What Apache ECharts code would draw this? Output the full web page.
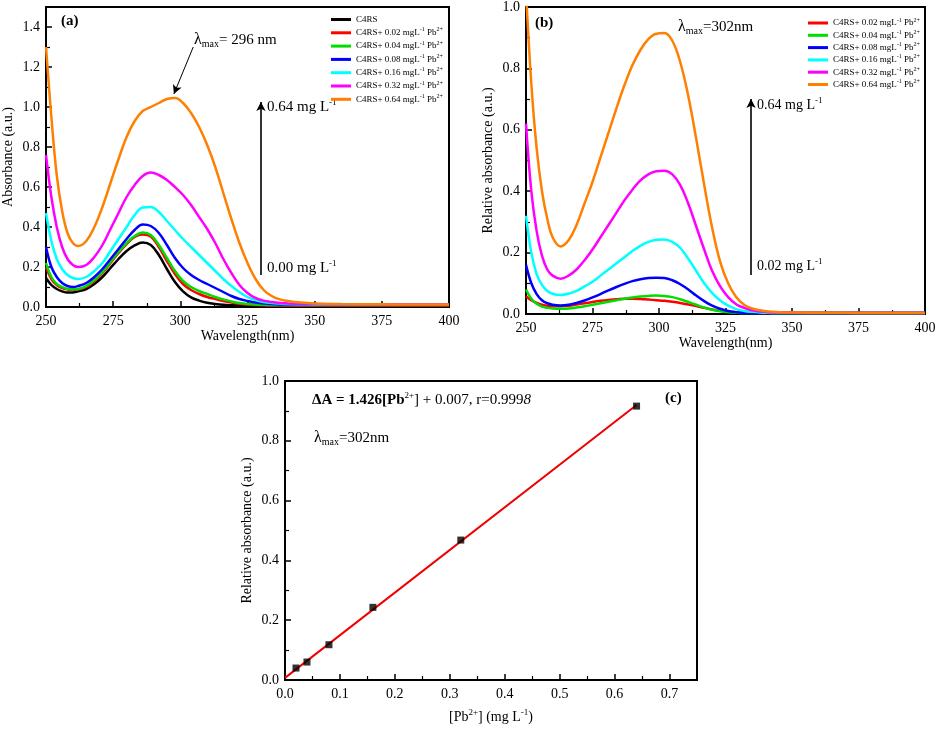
<!DOCTYPE html>
<html><head><meta charset="utf-8">
<script src="https://cdn.jsdelivr.net/npm/echarts@6/dist/echarts.min.js"></script>
<style>html,body{margin:0;padding:0;background:#fff}#c{width:945px;height:739px}</style>
</head><body><div id="c"></div>
<script>
// ---------- data ----------
const wlA = [250,252,254,256,258,260,262,265,268,271,274,277,280,283,286,289,292,295,298,301,304,307,310,313,316,319,322,325,328,331,334,337,340,345,350,360,370,380,390,400];
const aBlank = [0.145,0.11,0.09,0.078,0.072,0.073,0.078,0.09,0.115,0.15,0.195,0.24,0.28,0.308,0.322,0.31,0.26,0.19,0.125,0.078,0.048,0.032,0.021,0.015,0.011,0.009,0.008,0.007,0.007,0.006,0.006,0.006,0.006,0.006,0.006,0.006,0.006,0.006,0.006,0.006];
const a002 = [0.20,0.14,0.11,0.095,0.088,0.085,0.088,0.10,0.13,0.17,0.22,0.27,0.315,0.35,0.362,0.352,0.30,0.23,0.165,0.115,0.085,0.065,0.05,0.04,0.03,0.022,0.016,0.012,0.01,0.009,0.008,0.008,0.008,0.008,0.008,0.008,0.008,0.008,0.008,0.008];
const a004 = [0.22,0.15,0.115,0.10,0.09,0.088,0.09,0.105,0.135,0.175,0.225,0.275,0.32,0.355,0.372,0.36,0.31,0.245,0.18,0.13,0.10,0.08,0.065,0.05,0.038,0.028,0.02,0.015,0.012,0.011,0.01,0.01,0.01,0.01,0.01,0.01,0.01,0.01,0.01,0.01];
const a008 = [0.30,0.20,0.15,0.12,0.105,0.10,0.105,0.12,0.15,0.19,0.24,0.29,0.34,0.385,0.412,0.405,0.37,0.31,0.245,0.195,0.16,0.135,0.115,0.095,0.075,0.055,0.04,0.03,0.022,0.018,0.015,0.013,0.012,0.012,0.012,0.012,0.012,0.012,0.012,0.012];
const a016 = [0.47,0.33,0.24,0.19,0.16,0.145,0.14,0.15,0.18,0.22,0.28,0.34,0.40,0.46,0.498,0.50,0.475,0.43,0.385,0.34,0.30,0.26,0.22,0.18,0.14,0.105,0.075,0.05,0.035,0.025,0.02,0.017,0.015,0.014,0.013,0.013,0.013,0.013,0.013,0.013];
const a032 = [0.76,0.55,0.40,0.30,0.24,0.21,0.20,0.21,0.25,0.31,0.39,0.47,0.55,0.61,0.655,0.672,0.66,0.635,0.60,0.56,0.51,0.45,0.39,0.32,0.24,0.17,0.11,0.07,0.045,0.032,0.025,0.02,0.018,0.016,0.015,0.014,0.014,0.013,0.013,0.013];
const a064 = [1.30,0.95,0.66,0.48,0.37,0.32,0.305,0.33,0.40,0.50,0.62,0.74,0.85,0.93,0.98,1.00,1.02,1.04,1.045,1.02,0.97,0.90,0.81,0.70,0.57,0.44,0.32,0.22,0.14,0.085,0.055,0.038,0.03,0.022,0.018,0.015,0.014,0.013,0.013,0.013];

const wlB = [250,252,254,256,258,260,263,266,269,272,275,278,281,284,287,290,293,296,299,302,305,308,311,314,317,320,323,326,329,332,335,338,341,345,350,360,370,380,390,400];
const b002 = [0.058,0.045,0.036,0.03,0.027,0.025,0.025,0.027,0.031,0.035,0.039,0.043,0.046,0.048,0.05,0.05,0.049,0.047,0.045,0.043,0.04,0.036,0.031,0.026,0.02,0.015,0.011,0.008,0.006,0.005,0.004,0.004,0.004,0.004,0.004,0.004,0.004,0.004,0.004,0.004];
const b004 = [0.08,0.05,0.033,0.024,0.02,0.018,0.017,0.018,0.021,0.025,0.03,0.035,0.04,0.045,0.05,0.054,0.057,0.059,0.06,0.059,0.055,0.048,0.039,0.03,0.021,0.014,0.009,0.006,0.004,0.003,0.003,0.003,0.003,0.003,0.003,0.003,0.003,0.003,0.003,0.003];
const b008 = [0.16,0.10,0.065,0.045,0.035,0.03,0.028,0.03,0.036,0.044,0.054,0.065,0.077,0.088,0.098,0.107,0.113,0.117,0.118,0.117,0.11,0.097,0.08,0.06,0.042,0.027,0.017,0.01,0.006,0.004,0.003,0.003,0.003,0.003,0.003,0.003,0.003,0.003,0.003,0.003];
const b016 = [0.32,0.20,0.13,0.095,0.075,0.066,0.062,0.066,0.075,0.09,0.105,0.125,0.145,0.165,0.185,0.205,0.222,0.235,0.242,0.243,0.235,0.215,0.18,0.14,0.10,0.068,0.044,0.027,0.016,0.01,0.007,0.005,0.004,0.003,0.003,0.003,0.003,0.003,0.003,0.003];
const b032 = [0.62,0.40,0.27,0.19,0.145,0.125,0.115,0.125,0.145,0.175,0.21,0.25,0.29,0.33,0.37,0.405,0.435,0.455,0.465,0.467,0.455,0.42,0.36,0.285,0.21,0.14,0.09,0.055,0.032,0.02,0.012,0.008,0.006,0.005,0.004,0.003,0.003,0.003,0.003,0.003];
const b064 = [1.05,0.75,0.54,0.40,0.31,0.25,0.22,0.24,0.29,0.36,0.43,0.51,0.59,0.67,0.745,0.81,0.86,0.895,0.913,0.915,0.89,0.82,0.71,0.57,0.42,0.28,0.17,0.10,0.055,0.03,0.018,0.012,0.008,0.006,0.005,0.004,0.004,0.003,0.003,0.003];

const calibConc = [0.02,0.04,0.08,0.16,0.32,0.64];
const calibResp = [0.040,0.060,0.118,0.243,0.468,0.916];
const fitX = [0, 0.64];
const fitY = [0.007, 0.920];

const concLabels = ['0.02','0.04','0.08','0.16','0.32','0.64'];
const colors = ['#ff0000','#00dd00','#0000ff','#00ffff','#ff00ff','#ff7f00'];
const xTicksWave = {min:250, max:400, interval:25};

// ---------- chart ----------
const F = '"Liberation Serif", "Times New Roman", serif';
const zip = (xs, ys) => xs.map((x, i) => [x, ys[i]]);
const fmt1 = v => v.toFixed(1);
const sup = {fontFamily:F, fontSize:9, color:'#000', padding:[0,0,9,0]};
const sub = {fontFamily:F, fontSize:10, color:'#000', padding:[8,0,0,0]};

function axis(gi, o) {
  return Object.assign({
    type:'value', gridIndex:gi, nameLocation:'middle',
    nameTextStyle:{fontFamily:F, fontSize:14, color:'#000', rich:{t:{fontFamily:F,fontSize:14,color:'#000'}, s:sup}},
    axisLine:{show:true, onZero:false, lineStyle:{color:'#000', width:2}},
    axisTick:{show:true, inside:true, length:6, lineStyle:{color:'#000', width:1.5}},
    minorTick:{show:true, splitNumber:2, length:4, lineStyle:{color:'#000', width:1.2}},
    splitLine:{show:false}, minorSplitLine:{show:false},
    axisLabel:{fontFamily:F, fontSize:14, color:'#000', margin:7}
  }, o);
}

const series = [];
const aSets = [aBlank, a002, a004, a008, a016, a032, a064];
const aNames = ['C4RS'].concat(concLabels);
const aColors = ['#000000'].concat(colors);
aSets.forEach((d, i) => series.push({
  type:'line', name:aNames[i], xAxisIndex:0, yAxisIndex:0, data:zip(wlA, d),
  smooth:0.4, showSymbol:false, symbol:'none', lineStyle:{width:2.5, color:aColors[i]}, itemStyle:{color:aColors[i]}, z: 2 + i
}));
const bSets = [b002, b004, b008, b016, b032, b064];
bSets.forEach((d, i) => series.push({
  type:'line', name:concLabels[i], xAxisIndex:1, yAxisIndex:1, data:zip(wlB, d),
  smooth:0.4, showSymbol:false, symbol:'none', lineStyle:{width:2.5, color:colors[i]}, itemStyle:{color:colors[i]}, z: 2 + i
}));
// annotation arrows (data coordinates)
series[0].markLine = {silent:true, symbol:['none','arrow'], symbolSize:[7,9], label:{show:false},
  lineStyle:{color:'#000', type:'solid', width:1},
  data:[
    [{coord:[304.8,1.30]},{coord:[297.6,1.065]}],
    [{coord:[330,0.16], lineStyle:{width:1.6}},{coord:[330,1.025]}]
  ]};
series[7].markLine = {silent:true, symbol:['none','arrow'], symbolSize:[7,9], label:{show:false},
  lineStyle:{color:'#000', type:'solid', width:1.6},
  data:[[{coord:[334.6,0.127]},{coord:[334.6,0.70]}]]};
series.push({type:'line', name:'fit', xAxisIndex:2, yAxisIndex:2, data:zip(fitX, fitY), showSymbol:false, symbol:'none', lineStyle:{color:'#ee0000', width:2}, z:3});
series.push({type:'scatter', name:'calib', xAxisIndex:2, yAxisIndex:2, data:zip(calibConc, calibResp), symbol:'rect', symbolSize:7, itemStyle:{color:'#000'}, z:4});

const legendFmt = n => n === 'C4RS' ? '{t|C4RS}' : '{t|C4RS+ ' + n + ' mgL}{s|-1}{t| Pb}{s|2+}';
const legendRich = {t:{fontFamily:F, fontSize:9, color:'#000'}, s:{fontFamily:F, fontSize:6, color:'#000', padding:[0,0,6,0]}};

const txt = (x, y, text, extra) => ({type:'text', silent:true, style:Object.assign({x, y, text, verticalAlign:'middle', fill:'#000', font:'14px ' + F,
  rich:{t:{fontFamily:F, fontSize:14, color:'#000'}, b:{fontFamily:F, fontSize:15, fontWeight:'bold', color:'#000'}, i:{fontFamily:F, fontSize:15, fontStyle:'italic', color:'#000'},
    n:{fontFamily:F, fontSize:15, color:'#000'}, s:sup, u:sub, L:{fontFamily:F, fontSize:16, color:'#000'}}}, extra || {})});

const option = {
  animation:false,
  backgroundColor:'#fff',
  grid:[
    {left:44, top:7, right:496, bottom:432, show:true, borderColor:'#000', borderWidth:2, backgroundColor:'transparent'},
    {left:526, top:7, right:20, bottom:425, show:true, borderColor:'#000', borderWidth:2, backgroundColor:'transparent'},
    {left:285, top:381, right:248, bottom:59, show:true, borderColor:'#000', borderWidth:2, backgroundColor:'transparent'}
  ],
  xAxis:[
    axis(0, Object.assign({name:'Wavelength(nm)', nameGap:20}, xTicksWave)),
    axis(1, Object.assign({name:'Wavelength(nm)', nameGap:20}, xTicksWave)),
    axis(2, {min:0, max:0.75, interval:0.1, name:'[Pb{s|2+}] (mg L{s|-1})', nameGap:28,
      axisLabel:{fontFamily:F, fontSize:14, color:'#000', margin:7, showMaxLabel:false, formatter:fmt1}})
  ],
  yAxis:[
    axis(0, {min:0, max:1.5, interval:0.2, name:'Absorbance (a.u.)', nameGap:31,
      axisLabel:{fontFamily:F, fontSize:14, color:'#000', margin:6, showMaxLabel:false, formatter:fmt1}}),
    axis(1, {min:0, max:1.0, interval:0.2, name:'Relative absorbance (a.u.)', nameGap:31,
      axisLabel:{fontFamily:F, fontSize:14, color:'#000', margin:6, formatter:fmt1}}),
    axis(2, {min:0, max:1.0, interval:0.2, name:'Relative absorbance (a.u.)', nameGap:31,
      axisLabel:{fontFamily:F, fontSize:14, color:'#000', margin:6, formatter:fmt1}})
  ],
  legend:[
    {data:aNames, left:326, top:10, orient:'vertical', itemWidth:20, itemHeight:3, itemGap:2.8, icon:'rect',
      formatter:legendFmt, textStyle:{rich:legendRich}, selectedMode:false},
    {data:concLabels, left:803, top:12, orient:'vertical', itemWidth:20, itemHeight:3, itemGap:1.8, icon:'rect',
      formatter:legendFmt, textStyle:{rich:legendRich}, selectedMode:false}
  ],
  graphic:[
    txt(61, 21, '{b|(a)}'),
    txt(194, 40, '{L|λ}{u|max}{n|= 296 nm}'),
    txt(267, 107, '{n|0.64 mg L}{s|-1}'),
    txt(267, 268, '{n|0.00 mg L}{s|-1}'),
    txt(535, 23, '{b|(b)}'),
    txt(678, 27, '{L|λ}{u|max}{n|=302nm}'),
    txt(757, 105, '{t|0.64 mg L}{s|-1}'),
    txt(757, 266, '{t|0.02 mg L}{s|-1}'),
    txt(312, 400, '{b|ΔA = 1.426[Pb}{s|2+}{n|] + 0.007, r=0.999}{i|8}'),
    txt(665, 398, '{b|(c)}'),
    txt(314, 438, '{L|λ}{u|max}{n|=302nm}')
  ],
  series
};
const chart = echarts.init(document.getElementById('c'), null, {renderer:'canvas'});
chart.setOption(option);
</script>
</body></html>
